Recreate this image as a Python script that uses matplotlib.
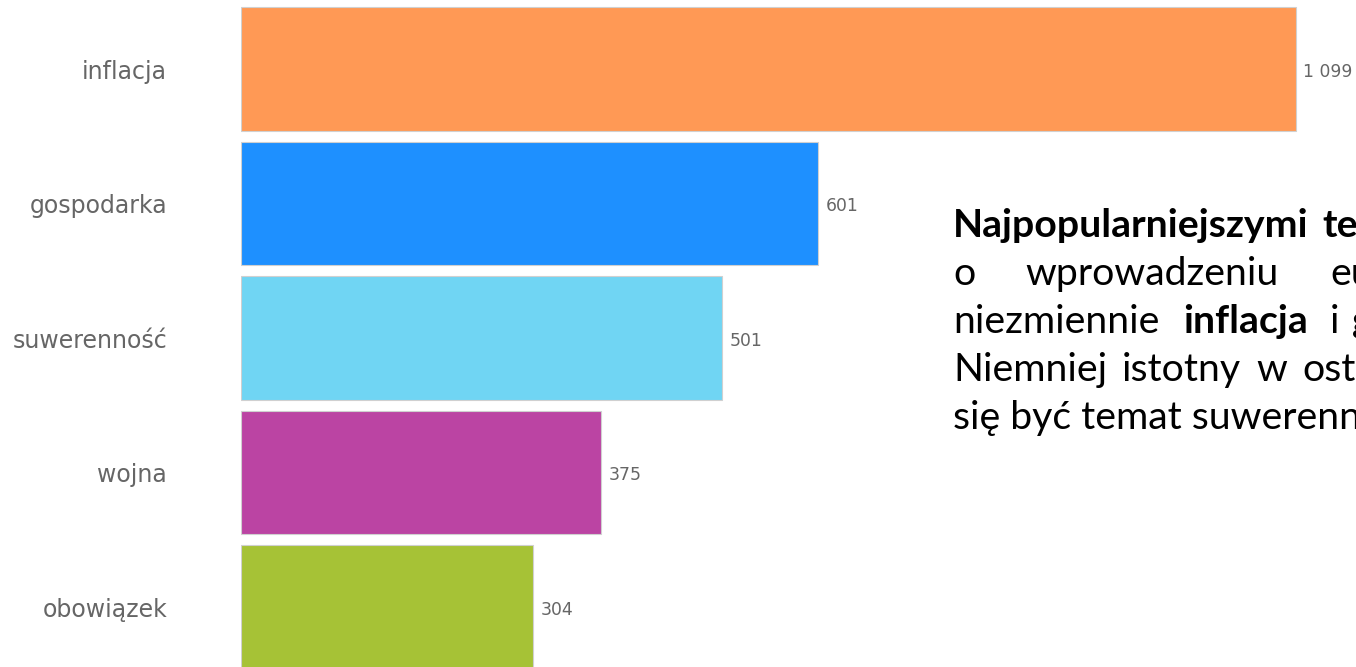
import matplotlib
matplotlib.use("Agg")
import matplotlib.pyplot as plt

categories = ["inflacja", "gospodarka", "suwerenność", "wojna", "obowiązek"]
values = [1099, 601, 501, 375, 304]
value_labels = ["1 099", "601", "501", "375", "304"]
colors = ["#FF9955", "#1E90FF", "#70D5F3", "#BB44A3", "#A6C236"]

W, H = 1356, 667
fig = plt.figure(figsize=(W / 100, H / 100), dpi=100)

# axes placement in pixels
ax_left = 241
k = 0.9597  # px per unit
ax = fig.add_axes([ax_left / W, 0, (W - ax_left) / W, 1])
ax.set_xlim(0, (W - ax_left) / k)
period = 134.5
ax.set_ylim(4 + (H - 607) / period, -69 / period)

ypos = list(range(len(categories)))
ax.barh(ypos, values, height=0.92, color=colors, edgecolor="#d0d0d0", linewidth=0.8)
for y, v, lab in zip(ypos, values, value_labels):
    ax.annotate(lab, (v, y), xytext=(5.5, -2), textcoords="offset points",
                va="center", ha="left", fontsize=12.4, color="#666666",
                family="DejaVu Sans")

ax.set_yticks(ypos)
ax.set_yticklabels(categories, fontsize=17, color="#666666", family="DejaVu Sans")
ax.tick_params(axis="y", length=0, pad=(ax_left - 167) * 0.72)
ax.set_xticks([])
for s in ax.spines.values():
    s.set_visible(False)
ax.patch.set_alpha(0)


def px(x, y):
    return x / W, 1 - y / H


fs = 28.3
lato = "Lato"
renderer = fig.canvas.get_renderer()


def text_w(s, bold):
    t = fig.text(0, 0, s, fontsize=fs, family=lato,
                 fontweight="bold" if bold else "normal")
    w = t.get_window_extent(renderer).width
    t.remove()
    return w


space_w = text_w("x x", False) - text_w("xx", False)

# justified paragraph: (baseline px, start x px, extra px per gap, words)
lines = [
    (237, 953, 4, [("Najpopularniejszymi", True), ("tematami", True)]),
    (285, 953, None, [("o", False), ("wprowadzeniu", False), ("euro", False)]),
    (333, 953, None, [("niezmiennie", False), ("inflacja", True),
                      ("i", False), ("gospodarka", True)]),
    (381, 953, 5, [("Niemniej", False), ("istotny", False), ("w", False),
                   ("ostatnim", False)]),
    (429, 953, 0, [("się być temat suwerenności.", False)]),
]
fixed_x = {285: [953, 1025, 1330], 333: [953, 1183, 1330, 1352]}
for yb, x0, extra, words in lines:
    x = x0
    for i, (w, b) in enumerate(words):
        if extra is None:
            x = fixed_x[yb][i]
        t = fig.text(*px(x, yb), w, fontsize=fs, family=lato, va="baseline",
                     ha="left", color="black", fontweight="bold" if b else "normal")
        if extra is not None:
            x += t.get_window_extent(renderer).width + space_w + extra

fig.savefig("out.png", dpi=100)
